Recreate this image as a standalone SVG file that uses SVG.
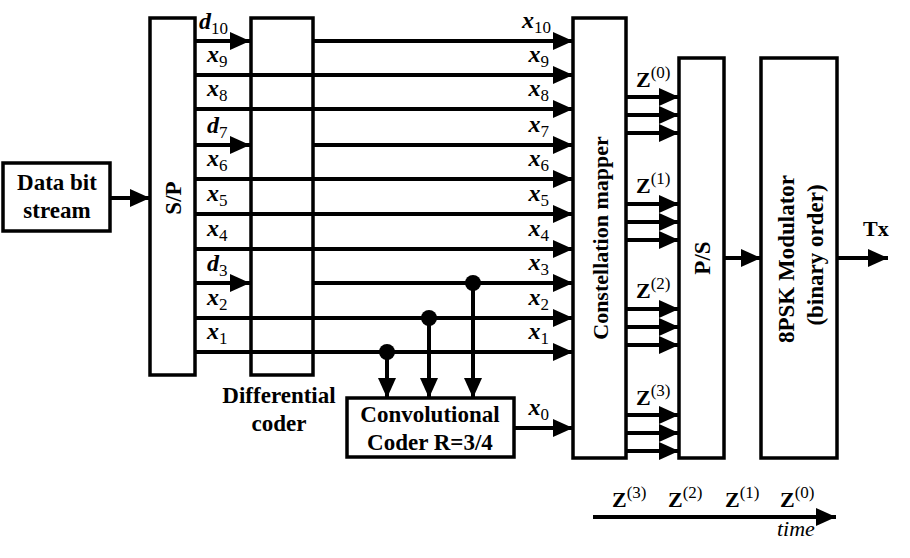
<svg xmlns="http://www.w3.org/2000/svg" width="910" height="558" viewBox="0 0 910 558">
<style>
.box{fill:#fff;stroke:#000;stroke-width:3.5}
.ln{fill:none;stroke:#000;stroke-width:4}
.lbl{font-family:"Liberation Serif",serif;font-weight:bold;font-size:23px;fill:#000}
.m{font-family:"Liberation Serif",serif;font-weight:bold;font-style:italic;font-size:24px;fill:#000}
.sub{font-style:normal;font-weight:normal;font-size:17px}
.z{font-family:"Liberation Serif",serif;font-weight:bold;font-size:22px;fill:#000}
.sup{font-weight:normal;font-size:17px}
</style>
<defs>
<marker id="ah" markerUnits="userSpaceOnUse" markerWidth="20" markerHeight="20" refX="20" refY="10" orient="auto" viewBox="0 0 20 20"><path d="M0,1 L20,10 L0,19 z" fill="#000"/></marker>
</defs>

<g id="data">
<rect class="box" x="3" y="163" width="107" height="68"/>
<text class="lbl" x="57" y="190" text-anchor="middle">Data bit</text>
<text class="lbl" x="57" y="218" text-anchor="middle">stream</text>
</g>
<g id="sp">
<rect class="box" x="150" y="18" width="45" height="357"/>
<text class="lbl" x="173" y="198" text-anchor="middle" dominant-baseline="central" transform="rotate(-90 173 198)">S/P</text>
</g>

<g id="connectors">
<line class="ln" x1="110" y1="198" x2="150" y2="198" marker-end="url(#ah)"/>
<line class="ln" x1="195" y1="41" x2="250" y2="41" marker-end="url(#ah)"/>
<line class="ln" x1="195" y1="145" x2="250" y2="145" marker-end="url(#ah)"/>
<line class="ln" x1="195" y1="283" x2="250" y2="283" marker-end="url(#ah)"/>
<line class="ln" x1="313" y1="41" x2="573" y2="41" marker-end="url(#ah)"/>
<line class="ln" x1="313" y1="145" x2="573" y2="145" marker-end="url(#ah)"/>
<line class="ln" x1="313" y1="283" x2="573" y2="283" marker-end="url(#ah)"/>
<line class="ln" x1="195" y1="75" x2="573" y2="75" marker-end="url(#ah)"/>
<line class="ln" x1="195" y1="109" x2="573" y2="109" marker-end="url(#ah)"/>
<line class="ln" x1="195" y1="179" x2="573" y2="179" marker-end="url(#ah)"/>
<line class="ln" x1="195" y1="214" x2="573" y2="214" marker-end="url(#ah)"/>
<line class="ln" x1="195" y1="249" x2="573" y2="249" marker-end="url(#ah)"/>
<line class="ln" x1="195" y1="318" x2="573" y2="318" marker-end="url(#ah)"/>
<line class="ln" x1="195" y1="352" x2="573" y2="352" marker-end="url(#ah)"/>
<circle cx="387" cy="352" r="8" fill="#000"/>
<circle cx="429" cy="318" r="8" fill="#000"/>
<circle cx="473" cy="283" r="8" fill="#000"/>
<line class="ln" x1="387" y1="352" x2="387" y2="398" marker-end="url(#ah)"/>
<line class="ln" x1="429" y1="318" x2="429" y2="398" marker-end="url(#ah)"/>
<line class="ln" x1="473" y1="283" x2="473" y2="398" marker-end="url(#ah)"/>
<line class="ln" x1="514" y1="428" x2="573" y2="428" marker-end="url(#ah)"/>
<line class="ln" x1="626" y1="97" x2="679" y2="97" marker-end="url(#ah)"/>
<line class="ln" x1="626" y1="115" x2="679" y2="115" marker-end="url(#ah)"/>
<line class="ln" x1="626" y1="133" x2="679" y2="133" marker-end="url(#ah)"/>
<line class="ln" x1="626" y1="204" x2="679" y2="204" marker-end="url(#ah)"/>
<line class="ln" x1="626" y1="222" x2="679" y2="222" marker-end="url(#ah)"/>
<line class="ln" x1="626" y1="240" x2="679" y2="240" marker-end="url(#ah)"/>
<line class="ln" x1="626" y1="309" x2="679" y2="309" marker-end="url(#ah)"/>
<line class="ln" x1="626" y1="327" x2="679" y2="327" marker-end="url(#ah)"/>
<line class="ln" x1="626" y1="345" x2="679" y2="345" marker-end="url(#ah)"/>
<line class="ln" x1="626" y1="415" x2="679" y2="415" marker-end="url(#ah)"/>
<line class="ln" x1="626" y1="433" x2="679" y2="433" marker-end="url(#ah)"/>
<line class="ln" x1="626" y1="451" x2="679" y2="451" marker-end="url(#ah)"/>
<line class="ln" x1="724" y1="258" x2="761" y2="258" marker-end="url(#ah)"/>
<line class="ln" x1="837" y1="258" x2="888" y2="258" marker-end="url(#ah)"/>
<line class="ln" x1="593" y1="517" x2="836" y2="517" marker-end="url(#ah)"/>
</g>

<g id="diffcoder">
<rect class="box" x="251" y="18" width="62" height="357" style="fill:none"/>
<text class="lbl" x="279" y="403" text-anchor="middle">Differential</text>
<text class="lbl" x="279" y="431" text-anchor="middle">coder</text>
</g>

<g id="convcoder">
<rect class="box" x="347" y="398" width="167" height="59"/>
<text class="lbl" x="430" y="422" text-anchor="middle">Convolutional</text>
<text class="lbl" x="430" y="450" text-anchor="middle">Coder R=3/4</text>
</g>

<g id="mapper">
<rect class="box" x="573" y="18" width="53" height="440"/>
<text class="lbl" x="600" y="238" style="font-size:22px" text-anchor="middle" dominant-baseline="central" transform="rotate(-90 600 238)">Constellation mapper</text>
</g>

<g id="ps">
<rect class="box" x="679" y="58" width="45" height="400"/>
<text class="lbl" x="702" y="258" text-anchor="middle" dominant-baseline="central" transform="rotate(-90 702 258)">P/S</text>
</g>

<g id="modulator">
<rect class="box" x="761" y="58" width="76" height="400"/>
<text class="lbl" x="786" y="259" text-anchor="middle" dominant-baseline="central" transform="rotate(-90 786 259)">8PSK Modulator</text>
<text class="lbl" x="815" y="255" text-anchor="middle" dominant-baseline="central" transform="rotate(-90 815 255)">(binary order)</text>
</g>

<g id="labels">
<text class="m" x="199" y="29">d<tspan class="sub" dy="5">10</tspan></text>
<text class="m" x="207" y="62">x<tspan class="sub" dy="5">9</tspan></text>
<text class="m" x="207" y="96">x<tspan class="sub" dy="5">8</tspan></text>
<text class="m" x="207" y="133">d<tspan class="sub" dy="5">7</tspan></text>
<text class="m" x="207" y="166">x<tspan class="sub" dy="5">6</tspan></text>
<text class="m" x="207" y="201">x<tspan class="sub" dy="5">5</tspan></text>
<text class="m" x="207" y="236">x<tspan class="sub" dy="5">4</tspan></text>
<text class="m" x="207" y="271">d<tspan class="sub" dy="5">3</tspan></text>
<text class="m" x="207" y="305">x<tspan class="sub" dy="5">2</tspan></text>
<text class="m" x="207" y="339">x<tspan class="sub" dy="5">1</tspan></text>
<text class="m" x="551" y="28" text-anchor="end">x<tspan class="sub" dy="5">10</tspan></text>
<text class="m" x="549" y="62" text-anchor="end">x<tspan class="sub" dy="5">9</tspan></text>
<text class="m" x="549" y="96" text-anchor="end">x<tspan class="sub" dy="5">8</tspan></text>
<text class="m" x="549" y="132" text-anchor="end">x<tspan class="sub" dy="5">7</tspan></text>
<text class="m" x="549" y="166" text-anchor="end">x<tspan class="sub" dy="5">6</tspan></text>
<text class="m" x="549" y="201" text-anchor="end">x<tspan class="sub" dy="5">5</tspan></text>
<text class="m" x="549" y="236" text-anchor="end">x<tspan class="sub" dy="5">4</tspan></text>
<text class="m" x="549" y="270" text-anchor="end">x<tspan class="sub" dy="5">3</tspan></text>
<text class="m" x="549" y="305" text-anchor="end">x<tspan class="sub" dy="5">2</tspan></text>
<text class="m" x="549" y="339" text-anchor="end">x<tspan class="sub" dy="5">1</tspan></text>
<text class="m" x="549" y="415" text-anchor="end">x<tspan class="sub" dy="5">0</tspan></text>
<text class="z" x="636" y="87">Z<tspan class="sup" dy="-9">(0)</tspan></text>
<text class="z" x="636" y="193">Z<tspan class="sup" dy="-9">(1)</tspan></text>
<text class="z" x="636" y="298">Z<tspan class="sup" dy="-9">(2)</tspan></text>
<text class="z" x="636" y="405">Z<tspan class="sup" dy="-9">(3)</tspan></text>
<text class="lbl" x="863" y="236" style="font-size:22px">Tx</text>
<text class="z" x="612" y="507">Z<tspan class="sup" dy="-9">(3)</tspan></text>
<text class="z" x="668" y="507">Z<tspan class="sup" dy="-9">(2)</tspan></text>
<text class="z" x="725" y="507">Z<tspan class="sup" dy="-9">(1)</tspan></text>
<text class="z" x="780" y="507">Z<tspan class="sup" dy="-9">(0)</tspan></text>
<text x="777" y="536" font-family="Liberation Serif, serif" font-style="italic" font-size="22">time</text>
</g>
</svg>
